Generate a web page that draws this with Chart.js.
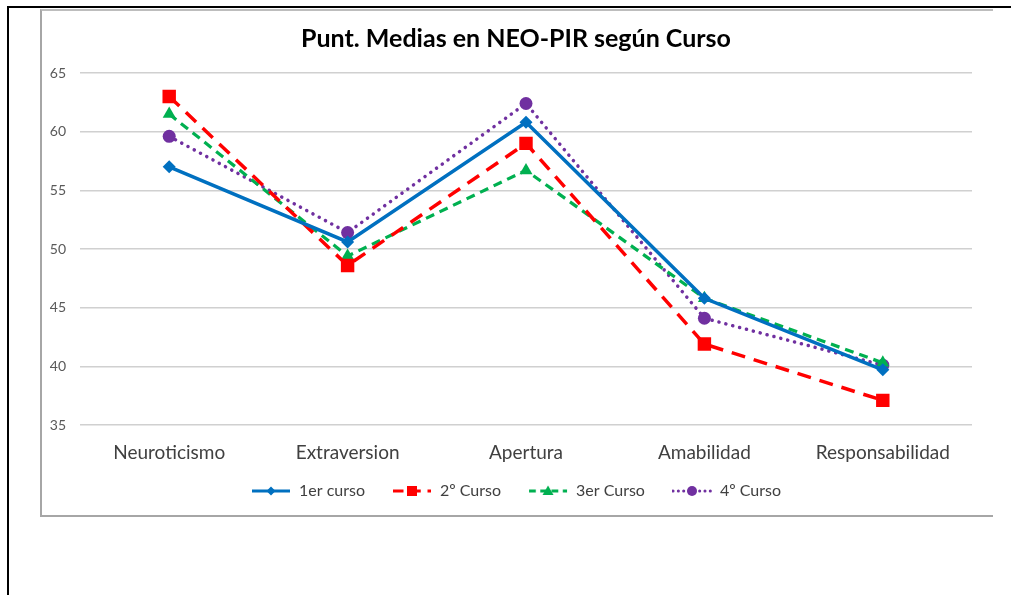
<!DOCTYPE html>
<html>
<head>
<meta charset="utf-8">
<script src="https://cdn.jsdelivr.net/npm/chart.js@4/dist/chart.umd.min.js"></script>
<style>
  html, body { margin: 0; padding: 0; background: #fff; }
  #wrap { position: relative; width: 1011px; height: 595px; overflow: hidden; }
  #outerTop { position: absolute; left: 7px; top: 6px; width: 1004px; height: 2px; background: #000; }
  #outerLeft { position: absolute; left: 7px; top: 6px; width: 2px; height: 589px; background: #000; }
  #frame { position: absolute; left: 40px; top: 9px; width: 951px; height: 504px;
           border-left: 2px solid #a6a6a6; border-top: 2px solid #bdbdbd; border-bottom: 2px solid #a6a6a6; }
  canvas { position: absolute; left: 0; top: 0; }
</style>
</head>
<body>
<div id="wrap">
  <div id="outerTop"></div>
  <div id="outerLeft"></div>
  <div id="frame"></div>
  <canvas id="c" width="1011" height="595"></canvas>
</div>
<script>
const categories = ['Neuroticismo', 'Extraversion', 'Apertura', 'Amabilidad', 'Responsabilidad'];
const seriesNames = ['1er curso', '2º Curso', '3er Curso', '4º Curso'];
const curso1 = [57.0, 50.6, 60.8, 45.8, 39.7];
const curso2 = [63.0, 48.6, 59.0, 41.9, 37.1];
const curso3 = [61.5, 49.4, 56.7, 45.8, 40.3];
const curso4 = [59.6, 51.4, 62.4, 44.1, 40.1];
const yTicks = [35, 40, 45, 50, 55, 60, 65];

const FONT = 'Lato, "Open Sans", sans-serif';

const styles = [
  { color: '#0070C0', dash: [], cap: 'butt', width: 3.5, point: 'rectRot', radius: 6.5 },
  { color: '#FF0000', dash: [14, 9], cap: 'butt', width: 3.5, point: 'rect', radius: 9.5 },
  { color: '#00B050', dash: [9, 6], cap: 'butt', width: 3.2, point: 'triangle', radius: 7.5 },
  { color: '#7030A0', dash: [0.1, 7], cap: 'round', width: 3.5, point: 'circle', radius: 6.5 }
];
const values = [curso1, curso2, curso3, curso4];

function legendImage(s) {
  const c = document.createElement('canvas');
  c.width = 40; c.height = 14;
  const ctx = c.getContext('2d');
  ctx.strokeStyle = s.color;
  ctx.fillStyle = s.color;
  ctx.lineWidth = 3;
  ctx.lineCap = s.cap;
  const d = s.dash.length ? s.dash.map(v => v * 0.75) : [];
  ctx.setLineDash(d);
  ctx.beginPath(); ctx.moveTo(1, 7); ctx.lineTo(39, 7); ctx.stroke();
  ctx.setLineDash([]);
  const cx = 20, cy = 7;
  ctx.beginPath();
  if (s.point === 'rectRot') {
    ctx.moveTo(cx, cy - 4.5); ctx.lineTo(cx + 4.5, cy); ctx.lineTo(cx, cy + 4.5); ctx.lineTo(cx - 4.5, cy);
  } else if (s.point === 'rect') {
    ctx.rect(cx - 5, cy - 5, 10, 10);
  } else if (s.point === 'triangle') {
    ctx.moveTo(cx, cy - 5.5); ctx.lineTo(cx + 5.5, cy + 4); ctx.lineTo(cx - 5.5, cy + 4);
  } else {
    ctx.arc(cx, cy, 5, 0, Math.PI * 2);
  }
  ctx.closePath();
  ctx.fill();
  return c;
}

const datasets = seriesNames.map((name, i) => {
  const s = styles[i];
  return {
    label: name,
    data: values[i],
    borderColor: s.color,
    backgroundColor: s.color,
    borderWidth: s.width,
    borderDash: s.dash,
    borderCapStyle: s.cap,
    pointStyle: s.point,
    pointRadius: s.radius,
    pointHoverRadius: s.radius,
    pointBackgroundColor: s.color,
    pointBorderColor: s.color,
    pointBorderWidth: 0,
    tension: 0,
    fill: false
  };
});

const legendImgs = styles.map(legendImage);

// shift title and legend to match the original (centred over x≈516)
const recentre = {
  id: 'recentre',
  afterLayout(chart) {
    if (chart.titleBlock) chart.titleBlock.left = 60;
    if (chart.legend) {
      chart.legend.left = 60;
      chart.legend.top -= 7;
      chart.legend.bottom -= 7;
    }
  }
};

new Chart(document.getElementById('c'), {
  type: 'line',
  data: { labels: categories, datasets },
  plugins: [recentre],
  options: {
    responsive: false,
    animation: false,
    events: [],
    layout: { padding: { left: 40, right: 39, top: 11, bottom: 79 } },
    plugins: {
      title: {
        display: true,
        text: 'Punt. Medias en NEO-PIR según Curso',
        color: '#000',
        font: { family: FONT, size: 25, weight: 'bold' },
        padding: { top: 12.5, bottom: 19.5 }
      },
      legend: {
        display: true,
        position: 'bottom',
        labels: {
          color: '#404040',
          font: { family: FONT, size: 16 },
          usePointStyle: true,
          pointStyleWidth: 40,
          padding: 27,
          generateLabels: (chart) => chart.data.datasets.map((ds, i) => ({
            text: ds.label,
            pointStyle: legendImgs[i],
            fillStyle: ds.borderColor,
            strokeStyle: ds.borderColor,
            lineWidth: 0,
            hidden: false,
            datasetIndex: i,
            fontColor: '#404040'
          }))
        }
      },
      tooltip: { enabled: false }
    },
    scales: {
      x: {
        offset: true,
        grid: { display: false, drawTicks: false },
        border: { display: false },
        ticks: { color: '#404040', font: { family: FONT, size: 19 }, padding: 16, maxRotation: 0 },
        afterFit: (s) => { s.height = 38; }
      },
      y: {
        min: 35, max: 65,
        afterBuildTicks: (s) => { s.ticks = yTicks.map(v => ({ value: v })); },
        grid: { color: '#d0d0d0', lineWidth: 1.5, drawTicks: false },
        border: { display: false },
        ticks: { color: '#595959', font: { family: FONT, size: 14 }, padding: 14 },
        afterFit: (s) => { s.width = 40; }
      }
    }
  }
});
</script>
</body>
</html>
